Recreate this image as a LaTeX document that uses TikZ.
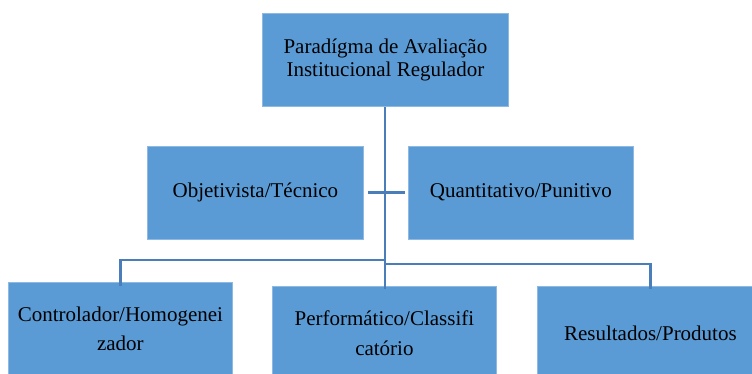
\documentclass[tikz,border=0pt]{standalone}
\usepackage{fontspec}
\setmainfont{Liberation Serif}
\definecolor{boxfill}{HTML}{5B9BD5}
\definecolor{boxedge}{HTML}{8DB9E3}
\definecolor{linkc}{HTML}{4A7EBB}
\tikzset{
  card/.style={rectangle, fill=boxfill, draw=boxedge, line width=0.8pt, anchor=north west, align=center, inner sep=0pt},
  toptext/.style={font=\fontsize{21}{23}\selectfont},
  lowtext/.style={font=\fontsize{21}{29.5}\selectfont},
  link/.style={draw=linkc, line width=2.8pt}
}
\begin{document}
\begin{tikzpicture}[x=1pt,y=-1pt]
\clip (0,0) rectangle (752,373);
\fill[white] (0,0) rectangle (752,373);
\node[card, toptext, minimum width=246pt, minimum height=93pt] (top) at (262,13) {Paradígma de Avaliação\\Institucional Regulador};
\node[card, toptext, minimum width=216pt, minimum height=93pt] (ml) at (147,145.5) {Objetivista/Técnico};
\node[card, toptext, minimum width=225pt, minimum height=93pt] (mr) at (408,145.5) {Quantitativo/Punitivo};
\node[card, lowtext, minimum width=224pt, minimum height=93pt] (bl) at (8,282) {Controlador/Homogenei\\zador};
\node[card, lowtext, minimum width=224pt, minimum height=94pt] (bm) at (272,286) {Performático/Classifi\\catório};
\node[card, toptext, minimum width=226pt, minimum height=94pt] (br) at (537,286) {Resultados/Produtos};
\coordinate (jl) at (385,260);
\coordinate (jr) at (385,264);
\draw[link] (top.south -| jl) -- ([yshift=-3pt]bm.north -| jl);
\draw[link] ([xshift=4pt]ml.east) -- ([xshift=-3pt]ml.east -| mr.west);
\draw[link] (jl) -| ([yshift=-4pt]bl.north);
\draw[link] (jr) -| ([yshift=-3pt]br.north);
\end{tikzpicture}
\end{document}
